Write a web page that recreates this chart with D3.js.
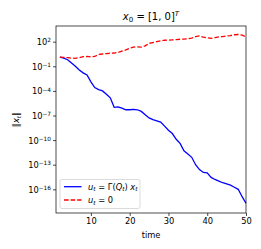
<!DOCTYPE html>
<html><head><meta charset="utf-8">
<script src="https://cdn.jsdelivr.net/npm/d3@7"></script>
<style>
body{margin:0;background:#fff;}
text{font-family:"DejaVu Sans",sans-serif;fill:#000;}
</style></head>
<body>
<svg id="c" width="261" height="249"></svg>
<script>
const times = d3.range(2, 51);
const blueLog = [0.13,0.0,-0.2,-0.6,-1.0,-1.45,-1.8,-2.05,-2.9,-3.6,-3.85,-4.0,-4.4,-4.85,-6.0,-5.95,-6.1,-6.3,-6.3,-6.25,-6.3,-6.5,-6.9,-7.3,-7.5,-7.65,-7.8,-8.3,-8.8,-9.2,-9.9,-10.4,-11.3,-11.7,-12.1,-13.0,-13.6,-13.95,-14.0,-14.55,-14.8,-15.0,-15.2,-15.35,-15.5,-15.75,-16.0,-16.9,-17.7];
const redLog = [0.13,0.1,0.05,0.0,-0.03,0.05,0.17,0.2,0.15,0.2,0.45,0.5,0.55,0.6,0.62,0.7,0.85,1.0,1.2,1.35,1.37,1.33,1.5,1.8,1.9,2.0,2.1,2.18,2.2,2.22,2.25,2.3,2.32,2.35,2.45,2.62,2.7,2.55,2.48,2.4,2.5,2.6,2.62,2.7,2.75,2.85,2.88,2.8,2.6];
const blueValues = blueLog.map(v => Math.pow(10, v));
const redValues = redLog.map(v => Math.pow(10, v));
const xTicks = [10, 20, 30, 40, 50];
const yTickExps = [2, -1, -4, -7, -10, -13, -16];

const svg = d3.select("#c");
const L = 56, R = 246, T = 26, B = 213;
const x = d3.scaleLinear().domain([1, 50]).range([L, R]);
const y = d3.scaleLog().domain([Math.pow(10, -18.89), Math.pow(10, 3.915)]).range([B, T]);

const line = d3.line().x(d => x(d[0])).y(d => y(d[1]));
svg.append("path").datum(times.map((t, i) => [t, blueValues[i]]))
  .attr("d", line).attr("fill", "none").attr("stroke", "#0000ff").attr("stroke-width", 1.3);
svg.append("path").datum(times.map((t, i) => [t, redValues[i]]))
  .attr("d", line).attr("fill", "none").attr("stroke", "#ff0000").attr("stroke-width", 1.3)
  .attr("stroke-dasharray", "4.6,2");

// frame
svg.append("rect").attr("x", L).attr("y", T).attr("width", R - L).attr("height", B - T)
  .attr("fill", "none").attr("stroke", "#000").attr("stroke-width", 0.7);

// x axis
const xa = svg.append("g").attr("transform", `translate(0,${B})`)
  .call(d3.axisBottom(x).tickValues(xTicks).tickSize(3).tickPadding(2).tickFormat(d3.format("d")));
xa.select(".domain").remove();
xa.selectAll("line").attr("stroke-width", 0.7);
xa.selectAll("text").attr("font-size", 8.3).style("font-family", "DejaVu Sans");

// y axis
const ya = svg.append("g").attr("transform", `translate(${L},0)`)
  .call(d3.axisLeft(y).tickValues(yTickExps.map(e => Math.pow(10, e))).tickSize(3).tickPadding(3).tickFormat(""));
ya.select(".domain").remove();
ya.selectAll("line").attr("stroke-width", 0.7);
ya.selectAll(".tick").each(function(d, i) {
  const e = yTickExps[i];
  const t = d3.select(this).append("text").attr("x", -5).attr("dy", "0.35em")
    .attr("text-anchor", "end").attr("font-size", 8.3);
  t.append("tspan").text("10");
  t.append("tspan").attr("dy", "-0.45em").attr("font-size", 5.8).text(e < 0 ? "\u2212" + (-e) : String(e));
});

// title
const title = svg.append("text").attr("x", (L + R) / 2).attr("y", 20).attr("text-anchor", "middle").attr("font-size", 10);
title.append("tspan").attr("font-style", "italic").text("x");
title.append("tspan").attr("font-size", 7).attr("dy", 2).text("0");
title.append("tspan").attr("dy", -2).text(" = [1, 0]");
title.append("tspan").attr("font-size", 7).attr("dy", -4).attr("font-style", "italic").text("T");

// x label
svg.append("text").attr("x", (L + R) / 2).attr("y", 238).attr("text-anchor", "middle").attr("font-size", 8.3).text("time");

// y label
const yl = svg.append("text").attr("transform", `translate(19,${(T + B) / 2}) rotate(-90)`)
  .attr("text-anchor", "middle").attr("font-size", 8.3);
yl.append("tspan").text("\u2016");
yl.append("tspan").attr("font-style", "italic").text("x");
yl.append("tspan").attr("font-size", 5.8).attr("dy", 1.5).attr("font-style", "italic").text("t");
yl.append("tspan").attr("dy", -1.5).text("\u2016");

// legend
const lg = svg.append("g");
lg.append("rect").attr("x", 60).attr("y", 179.5).attr("width", 80).attr("height", 29)
  .attr("rx", 2).attr("fill", "#fff").attr("fill-opacity", 0.8).attr("stroke", "#ccc").attr("stroke-width", 0.7);
lg.append("line").attr("x1", 64).attr("x2", 81.5).attr("y1", 186.7).attr("y2", 186.7)
  .attr("stroke", "#0000ff").attr("stroke-width", 1.3);
lg.append("line").attr("x1", 64).attr("x2", 81.5).attr("y1", 200).attr("y2", 200)
  .attr("stroke", "#ff0000").attr("stroke-width", 1.3).attr("stroke-dasharray", "4.6,2");
const t1 = lg.append("text").attr("x", 88).attr("y", 189.7).attr("font-size", 8.3);
t1.append("tspan").attr("font-style", "italic").text("u");
t1.append("tspan").attr("font-size", 5.8).attr("dy", 1.5).attr("font-style", "italic").text("t");
t1.append("tspan").attr("dy", -1.5).text(" = \u0393(");
t1.append("tspan").attr("font-style", "italic").text("Q");
t1.append("tspan").attr("font-size", 5.8).attr("dy", 1.5).attr("font-style", "italic").text("t");
t1.append("tspan").attr("dy", -1.5).text(") ");
t1.append("tspan").attr("font-style", "italic").text("x");
t1.append("tspan").attr("font-size", 5.8).attr("dy", 1.5).attr("font-style", "italic").text("t");
const t2 = lg.append("text").attr("x", 88).attr("y", 203).attr("font-size", 8.3);
t2.append("tspan").attr("font-style", "italic").text("u");
t2.append("tspan").attr("font-size", 5.8).attr("dy", 1.5).attr("font-style", "italic").text("t");
t2.append("tspan").attr("dy", -1.5).text(" = 0");
</script>
</body></html>
